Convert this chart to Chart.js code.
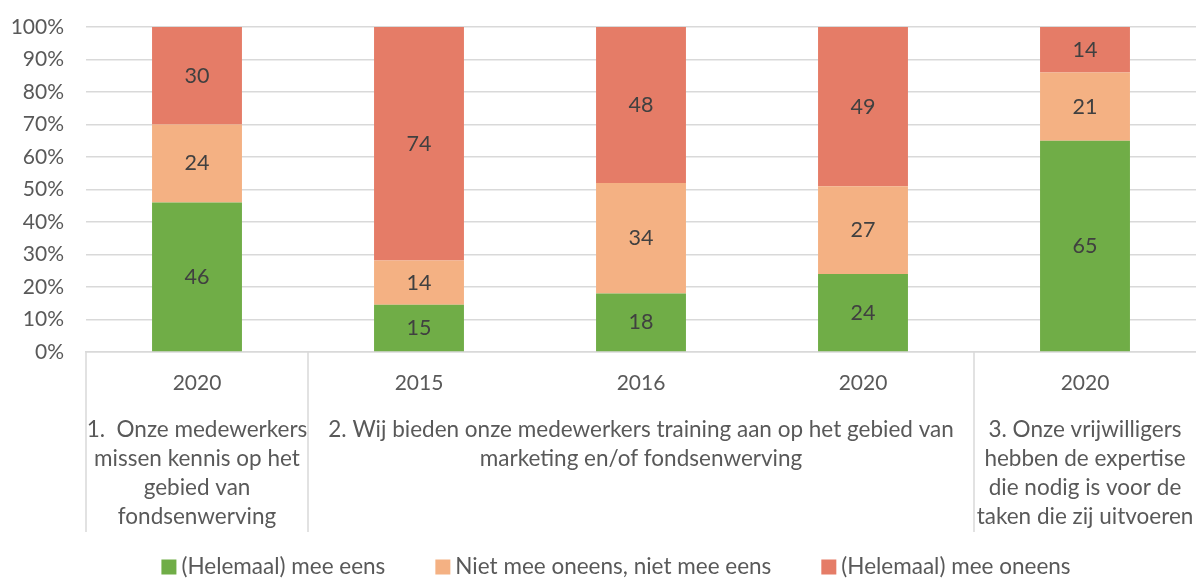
<!DOCTYPE html>
<html>
<head>
<meta charset="utf-8">
<script src="https://cdn.jsdelivr.net/npm/chart.js@4"></script>
<style>
  html, body { margin: 0; padding: 0; background: #fff; }
  #wrap { width: 1196px; height: 579px; }
</style>
</head>
<body>
<div id="wrap"><canvas id="chartStack"></canvas></div>
<script>
const years = ['2020', '2015', '2016', '2020', '2020'];
const groups = [
  { from: 0, to: 0, lines: ['1.  Onze medewerkers', 'missen kennis op het', 'gebied van', 'fondsenwerving'] },
  { from: 1, to: 3, lines: ['2. Wij bieden onze medewerkers training aan op het gebied van', 'marketing en/of fondsenwerving'] },
  { from: 4, to: 4, lines: ['3. Onze vrijwilligers', 'hebben de expertise', 'die nodig is voor de', 'taken die zij uitvoeren'] }
];
const eens = [46, 15, 18, 24, 65];
const neutraal = [24, 14, 34, 27, 21];
const oneens = [30, 74, 48, 49, 14];
const seriesNames = ['(Helemaal) mee eens', 'Niet mee oneens, niet mee eens', '(Helemaal) mee oneens'];
const colors = ['#70ad47', '#f4b183', '#e57c67'];

const FONT = 'Lato, "Noto Sans", sans-serif';
const series = [eens, neutraal, oneens];
const totals = years.map((y, i) => eens[i] + neutraal[i] + oneens[i]);

// every column is shown as share of its own total (100% stacked)
const datasets = series.map((vals, s) => ({
  label: seriesNames[s],
  data: vals.map((v, i) => v / totals[i] * 100),
  raw: vals,
  backgroundColor: colors[s],
  borderWidth: 0,
  categoryPercentage: 1,
  barPercentage: 0.405
}));

const valueLabels = {
  id: 'valueLabels',
  afterDatasetsDraw(chart) {
    const ctx = chart.ctx;
    ctx.save();
    ctx.font = '21.5px ' + FONT;
    ctx.fillStyle = '#404040';
    ctx.textAlign = 'center';
    ctx.textBaseline = 'middle';
    chart.data.datasets.forEach((ds, d) => {
      chart.getDatasetMeta(d).data.forEach((bar, i) => {
        ctx.fillText(ds.raw[i], bar.x, (bar.y + bar.base) / 2);
      });
    });
    ctx.restore();
  }
};

// second row of the category axis: question texts with separators
const groupAxis = {
  id: 'groupAxis',
  afterDraw(chart) {
    const ctx = chart.ctx;
    const x = chart.scales.x;
    const step = x.getPixelForValue(1) - x.getPixelForValue(0);
    const top = x.top;
    ctx.save();
    ctx.strokeStyle = '#d9d9d9';
    ctx.lineWidth = 1.5;
    groups.forEach(g => {
      const left = x.getPixelForValue(g.from) - step / 2;
      const right = x.getPixelForValue(g.to) + step / 2;
      ctx.beginPath();
      ctx.moveTo(left, top);
      ctx.lineTo(left, top + 180);
      ctx.stroke();
      ctx.font = '22.5px ' + FONT;
      ctx.fillStyle = '#595959';
      ctx.textAlign = 'center';
      ctx.textBaseline = 'middle';
      g.lines.forEach((t, k) => {
        ctx.fillText(t, (left + right) / 2, top + 78 + k * 29);
      });
    });
    ctx.restore();
  }
};

const bottomLegend = {
  id: 'bottomLegend',
  afterDraw(chart) {
    const ctx = chart.ctx;
    const box = 15, gap = 5, spacing = 50, y = 567;
    ctx.save();
    ctx.font = '22.5px ' + FONT;
    const widths = chart.data.datasets.map(ds => box + gap + ctx.measureText(ds.label).width);
    const total = widths.reduce((a, b) => a + b, 0) + spacing * (widths.length - 1);
    let x = (chart.width - total) / 2 + 18;
    ctx.textBaseline = 'middle';
    ctx.textAlign = 'left';
    chart.data.datasets.forEach((ds, i) => {
      ctx.fillStyle = ds.backgroundColor;
      ctx.fillRect(x, y - box / 2, box, box);
      ctx.fillStyle = '#595959';
      ctx.fillText(ds.label, x + box + gap, y);
      x += widths[i] + spacing;
    });
    ctx.restore();
  }
};

new Chart(document.getElementById('chartStack'), {
  type: 'bar',
  data: { labels: years, datasets: datasets },
  plugins: [valueLabels, groupAxis, bottomLegend],
  options: {
    responsive: true,
    maintainAspectRatio: false,
    animation: false,
    layout: { padding: { top: 27, right: -4, left: 0, bottom: 0 } },
    plugins: {
      tooltip: { enabled: false },
      legend: { display: false }
    },
    scales: {
      x: {
        stacked: true,
        grid: { display: false },
        border: { display: true, color: '#d9d9d9', width: 1.5 },
        ticks: { font: { family: FONT, size: 21 }, color: '#595959', padding: 11, maxRotation: 0 },
        afterFit(scale) { scale.height = 227; }
      },
      y: {
        stacked: true,
        min: 0,
        max: 100,
        grid: { color: '#d9d9d9', lineWidth: 1.5, drawTicks: false },
        border: { display: false },
        ticks: {
          stepSize: 10,
          padding: 22,
          font: { family: FONT, size: 21 },
          color: '#595959',
          callback: v => v + '%'
        },
        afterFit(scale) {
          scale.width = 86;
          scale.paddingTop = 0;
          scale.paddingBottom = 0;
        }
      }
    }
  }
});
</script>
</body>
</html>
